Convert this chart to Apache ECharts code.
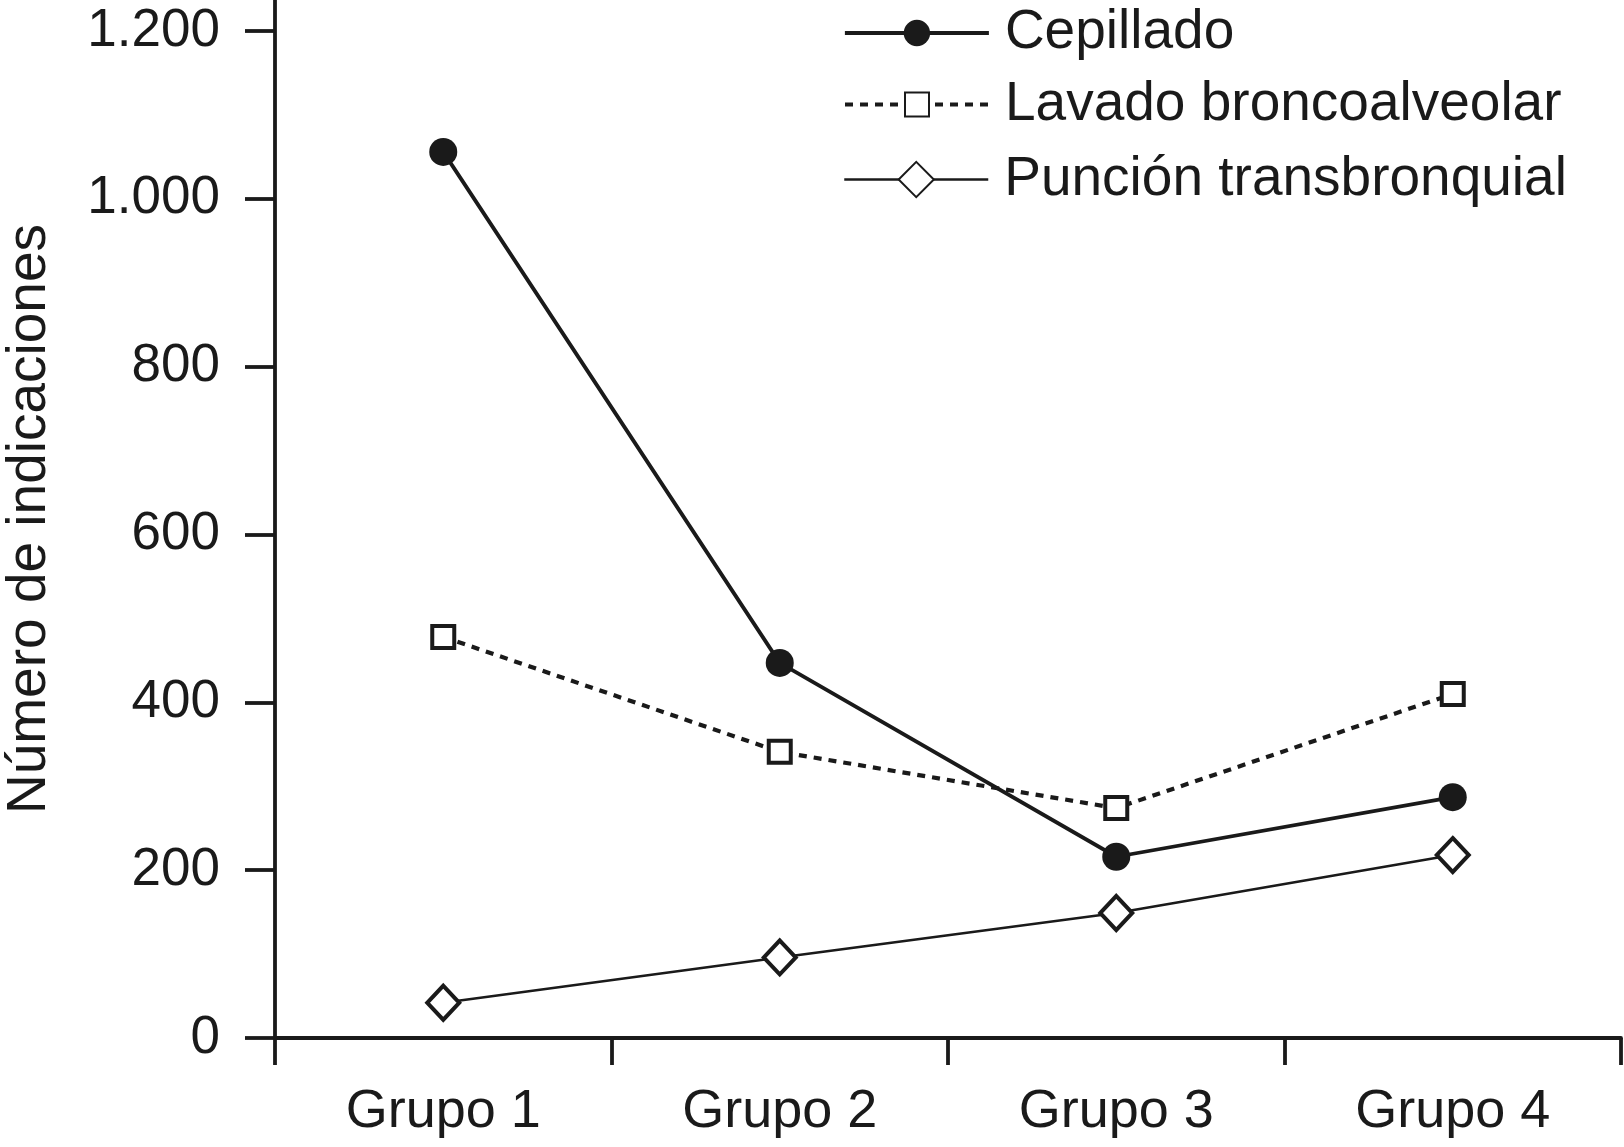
<!DOCTYPE html>
<html>
<head>
<meta charset="utf-8">
<script src="https://cdn.jsdelivr.net/npm/echarts@6/dist/echarts.min.js"></script>
<style>
  html, body { margin: 0; padding: 0; background: #fff; }
  #chart { width: 1624px; height: 1147px; }
</style>
</head>
<body>
<div id="chart"></div>
<script>
const categories = ['Grupo 1', 'Grupo 2', 'Grupo 3', 'Grupo 4'];
const cepillado = [1056, 447, 216, 287];
const lavado = [478, 341, 274, 410];
const puncion = [42, 96, 149, 218];
const yTicks = [0, 200, 400, 600, 800, 1000, 1200];
const seriesNames = ['Cepillado', 'Lavado broncoalveolar', 'Punción transbronquial'];

const INK = '#1a1a1a';
const FONT = 'Liberation Sans';

function fmt(v) {
  return String(v).replace(/\B(?=(\d{3})+(?!\d))/g, '.');
}

const chart = echarts.init(document.getElementById('chart'), null, { renderer: 'canvas' });

function legendAt(name, top, itemHeight, lineStyle) {
  return {
    data: [name],
    left: 843,
    top: top,
    orient: 'vertical',
    padding: 0,
    itemWidth: 144,
    itemHeight: itemHeight,
    selectedMode: false,
    lineStyle: lineStyle,
    textStyle: { color: INK, fontFamily: FONT, fontSize: 55, padding: [0, 0, 0, 11] }
  };
}

chart.setOption({
  animation: false,
  backgroundColor: '#fff',
  grid: { left: 275, right: 3, top: 0, bottom: 109, outerBoundsMode: 'none' },
  legend: [
    legendAt(seriesNames[0], 5.5, 33, { color: INK, width: 3.8, type: 'solid' }),
    legendAt(seriesNames[1], 77, 30, { color: INK, width: 4, type: [8, 7] }),
    legendAt(seriesNames[2], 152, 44, { color: INK, width: 2.5, type: 'solid' })
  ],
  xAxis: {
    type: 'category',
    data: categories,
    boundaryGap: true,
    axisLine: { show: true, lineStyle: { color: INK, width: 3.8 } },
    axisTick: { show: true, length: 27, lineStyle: { color: INK, width: 3.8 } },
    axisLabel: { color: INK, fontFamily: FONT, fontSize: 54, margin: 47 },
    splitLine: { show: false }
  },
  yAxis: {
    type: 'value',
    min: 0,
    max: 1237,
    name: 'Número de indicaciones',
    nameLocation: 'middle',
    nameGap: 218,
    nameRotate: 90,
    nameTextStyle: { color: INK, fontFamily: FONT, fontSize: 55 },
    axisLine: { show: true, lineStyle: { color: INK, width: 3.8 } },
    axisTick: { show: true, length: 30, customValues: yTicks, lineStyle: { color: INK, width: 3.8 } },
    axisLabel: { color: INK, fontFamily: FONT, fontSize: 53, margin: 55, customValues: yTicks, formatter: fmt },
    splitLine: { show: false }
  },
  series: [
    {
      name: seriesNames[0],
      type: 'line',
      data: cepillado,
      symbol: 'circle',
      symbolSize: 28,
      lineStyle: { color: INK, width: 3.8, type: 'solid' },
      itemStyle: { color: INK, borderColor: INK, borderWidth: 0 },
      z: 3
    },
    {
      name: seriesNames[1],
      type: 'line',
      data: lavado,
      symbol: 'rect',
      symbolSize: 22,
      lineStyle: { color: INK, width: 4.2, type: [8, 7] },
      itemStyle: { color: '#fff', borderColor: INK, borderWidth: 4 },
      z: 2
    },
    {
      name: seriesNames[2],
      type: 'line',
      data: puncion,
      symbol: 'diamond',
      symbolSize: [32, 34],
      lineStyle: { color: INK, width: 2.6, type: 'solid' },
      itemStyle: { color: '#fff', borderColor: INK, borderWidth: 4 },
      z: 2
    }
  ]
});
</script>
</body>
</html>
